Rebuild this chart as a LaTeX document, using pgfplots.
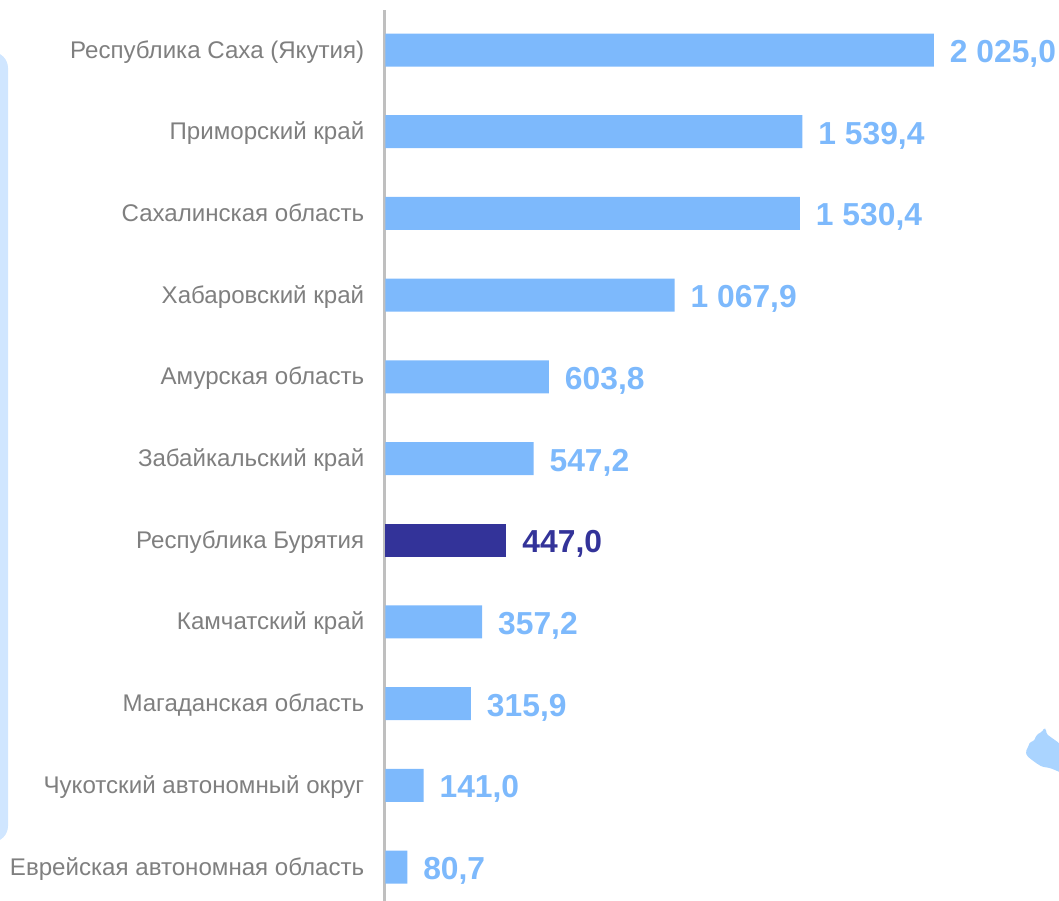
\documentclass[border=0pt]{standalone}
\usepackage{fontspec}
\setmainfont{Liberation Sans}
\usepackage{pgfplots}
\pgfplotsset{compat=1.18}
\definecolor{barlight}{HTML}{7DB9FC}
\definecolor{bardark}{HTML}{333399}
\definecolor{txtgray}{HTML}{7F7F7F}
\definecolor{axisgray}{HTML}{BFBFBF}
\definecolor{panelblue}{HTML}{D0E6FF}
\definecolor{blobblue}{HTML}{AAD4FF}
\begin{document}
\begin{tikzpicture}
\path[use as bounding box] (0pt,0pt) rectangle (1059pt,-901pt);
\begin{scope}[x=1pt,y=1pt]
\clip (0,0) rectangle (1059,-901);
\fill[panelblue] (-20,-52) -- (-8,-52) arc[start angle=90,end angle=0,radius=16] -- (8,-826) arc[start angle=0,end angle=-90,radius=16] -- (-20,-842) -- cycle;
\fill[blobblue, rounded corners=1.5pt] (1025.7,-751.7) -- (1028,-747) -- (1030,-742) -- (1034,-741) -- (1036,-736) -- (1039,-733) -- (1042,-732) -- (1044,-728) -- (1046,-729) -- (1046.5,-734) -- (1052,-738) -- (1059,-743) -- (1065,-750) -- (1065,-775) -- (1059,-771.7) -- (1050,-768) -- (1042,-766.7) -- (1036,-763) -- (1032,-760) -- (1027,-756) -- cycle;
\end{scope}
\begin{axis}[
  at={(385.4pt,-901pt)}, anchor=south west,
  scale only axis, width=673.6pt, height=891pt,
  xmin=0, xmax=2486.6,
  ymin=-0.49, ymax=10.416, y dir=reverse,
  axis y line=left, axis x line=none,
  axis y line shift=0.8pt,
  axis line style={-, draw=axisgray, line width=2.3pt},
  xtick=\empty,
  ytick={0,1,2,3,4,5,6,7,8,9,10},
  yticklabels={Республика Саха (Якутия),Приморский край,Сахалинская область,Хабаровский край,Амурская область,Забайкальский край,Республика Бурятия,Камчатский край,Магаданская область,Чукотский автономный округ,Еврейская автономная область},
  yticklabel style={inner sep=0pt, text height=20pt, text depth=4pt, xshift=-20.2pt, font=\fontsize{24.1}{28}\selectfont, text=txtgray},
  major tick length=0pt,
  clip=false,
  xbar, bar width=33pt, bar shift=0pt,
  point meta=explicit symbolic,
  nodes near coords,
  nodes near coords style={anchor=west, inner sep=0pt, text height=28pt, text depth=3pt, xshift=15.8pt, font=\fontsize{31.8}{36}\selectfont\bfseries},
]
\addplot[draw=none, fill=barlight, text=barlight] coordinates {
  (2025.0,0) [2 025,0]
  (1539.4,1) [1 539,4]
  (1530.4,2) [1 530,4]
  (1067.9,3) [1 067,9]
  (603.8,4) [603,8]
  (547.2,5) [547,2]
  (357.2,7) [357,2]
  (315.9,8) [315,9]
  (141.0,9) [141,0]
  (80.7,10) [80,7]
};
\addplot[draw=none, fill=bardark, text=bardark] coordinates {
  (447.0,6) [447,0]
};
\end{axis}
\end{tikzpicture}
\end{document}
